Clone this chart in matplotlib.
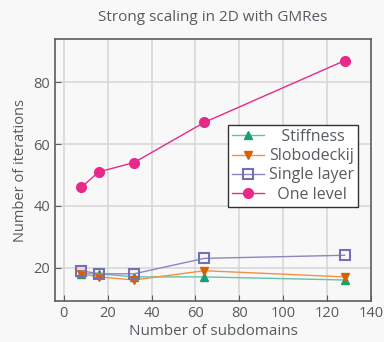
import matplotlib
matplotlib.use("Agg")
import matplotlib.pyplot as plt

plt.rcParams['font.family'] = ['Open Sans', 'DejaVu Sans']

x = [8, 16, 32, 64, 128]
stiffness = [18, 18, 17, 17, 16]
slobodeckij = [18, 17, 16, 19, 17]
single_layer = [19, 18, 18, 23, 24]
one_level = [46, 51, 54, 67, 87]
labels = ['   Stiffness', 'Slobodeckij', 'Single layer', '  One level']

bg = '#f8f8f8'
txt = '#555b60'
fig = plt.figure(figsize=(3.84, 3.42), dpi=100, facecolor=bg)
ax = fig.add_axes([55/384, 1-301/342, (371-55)/384, (301-39)/342])
ax.set_facecolor(bg)

ax.plot(x, stiffness, color='#66c2a5', lw=1, marker='^', ms=6, mfc='#1b9e77', mec='#1b9e77', label=labels[0], zorder=3)
ax.plot(x, slobodeckij, color='#f0914a', lw=1, marker='v', ms=6, mfc='#d95f02', mec='#d95f02', label=labels[1], zorder=3)
ax.plot(x, single_layer, color='#8a86c4', lw=1, marker='s', ms=7, mfc='none', mec='#7570b3', mew=1.5, label=labels[2], zorder=3)
ax.plot(x, one_level, color='#e7298a', lw=1, marker='o', ms=7, mfc='#e7298a', mec='#e7298a', label=labels[3], zorder=3)

ax.set_xlim(-4, 140)
ax.set_ylim(9.2, 94)
ax.set_xticks([0, 20, 40, 60, 80, 100, 120, 140])
ax.set_yticks([20, 40, 60, 80])
ax.grid(True, color='#d8d8d8', lw=1.2)
ax.set_axisbelow(True)
for s in ax.spines.values():
    s.set_color('#5a5f63')
    s.set_linewidth(1.2)
ax.tick_params(direction='in', colors='#5a5f63', labelcolor=txt, labelsize=10.5, length=4)
ax.set_xlabel('Number of subdomains', color=txt, fontsize=11, labelpad=2)
ax.set_ylabel('Number of iterations', color=txt, fontsize=10.5)
ax.set_title('Strong scaling in 2D with GMRes', color=txt, fontsize=11, pad=13)

leg = ax.legend(loc='upper right', bbox_to_anchor=(0.959, 0.672), borderaxespad=0, fontsize=11.5,
                frameon=True, fancybox=False, handlelength=2.0, borderpad=0.25, labelspacing=0.2,
                handletextpad=0.3)
leg.get_frame().set_edgecolor('#333333')
leg.get_frame().set_facecolor('white')
leg.get_frame().set_alpha(1)
for t in leg.get_texts():
    t.set_color(txt)

fig.savefig('out.png', dpi=100, facecolor=bg)
